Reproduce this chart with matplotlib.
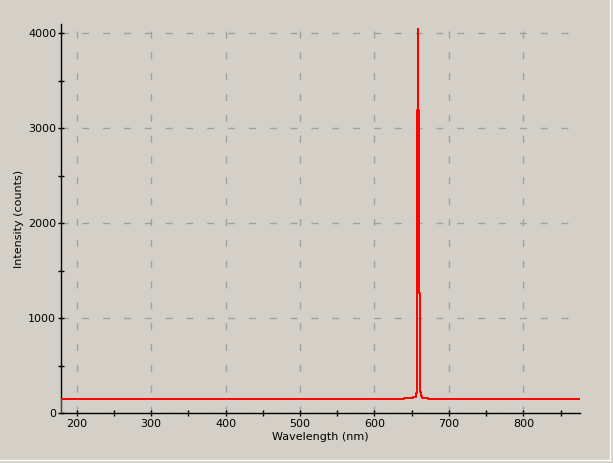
import matplotlib
matplotlib.use("Agg")
import matplotlib.pyplot as plt
from matplotlib.ticker import MultipleLocator
from matplotlib.lines import Line2D

# Data (wavelength nm, intensity counts)
wavelength = [179.0, 179.1, 250.0, 320.0, 400.0, 480.0, 560.0, 630.0, 650.0,
              654.5, 656.0, 657.0, 657.7, 658.5, 659.3, 660.1, 660.9, 661.7,
              662.5, 664.0, 680.0, 750.0, 820.0, 876.0]
intensity = [0, 146, 147, 148, 147, 148, 147, 150, 155,
             170, 210, 295, 3190, 4050, 3190, 1263, 453, 220,
             175, 160, 150, 148, 147, 147]

x_label = "Wavelength (nm)"
y_label = "Intensity (counts)"
x_limits = (179, 876)
y_limits = (0, 4100)

BG = "#D4D0C8"
plt.rcParams['font.family'] = ['DejaVu Sans']
fig = plt.figure(figsize=(6.13, 4.63), dpi=100, facecolor=BG)
ax = fig.add_axes([61/613, 50/463, (580-61)/613, (413-24)/463])
ax.set_facecolor(BG)

ax.plot(wavelength, intensity, color="#FF0000", linewidth=1.4,
        drawstyle="steps-mid", zorder=3)

ax.set_xlim(*x_limits)
ax.set_ylim(*y_limits)
ax.xaxis.set_major_locator(MultipleLocator(100))
ax.xaxis.set_minor_locator(MultipleLocator(50))
ax.yaxis.set_major_locator(MultipleLocator(1000))
ax.yaxis.set_minor_locator(MultipleLocator(500))

for s in ("top", "right"):
    ax.spines[s].set_visible(False)
for s in ("left", "bottom"):
    ax.spines[s].set_linewidth(1.0)
    ax.spines[s].set_color("black")

ax.tick_params(axis="both", which="both", direction="inout", length=5,
               width=1.0, color="black", labelsize=8, pad=1)
ax.tick_params(axis="x", which="both", pad=2)

ax.grid(True, which="major", color="#A0A0A0", linewidth=1.0,
        linestyle=(0, (5, 10)))
ax.set_axisbelow(True)

ax.set_xlabel(x_label, fontsize=8, labelpad=2)
ax.set_ylabel(y_label, fontsize=8, labelpad=3)

# panel border lines (3D frame edge)
fig.add_artist(Line2D([0, 610/613], [1-460/463, 1-460/463], transform=fig.transFigure,
                      color="white", linewidth=1))
fig.add_artist(Line2D([610/613, 610/613], [1-460/463, 1], transform=fig.transFigure,
                      color="white", linewidth=1))

fig.savefig("out.png", dpi=100, facecolor=BG)
